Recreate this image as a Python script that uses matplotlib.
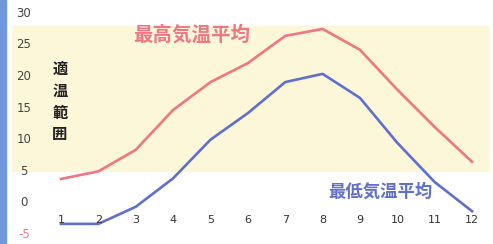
import matplotlib.pyplot as plt
from matplotlib.patches import Rectangle

plt.rcParams['font.family'] = ['Noto Sans CJK JP', 'DejaVu Sans']

# dados
months = [1, 2, 3, 4, 5, 6, 7, 8, 9, 10, 11, 12]
temp_max = [3.8, 5.0, 8.4, 14.7, 19.1, 22.1, 26.4, 27.5, 24.2, 17.9, 12.0, 6.5]
temp_min = [-3.3, -3.3, -0.6, 3.9, 10.0, 14.2, 19.1, 20.4, 16.6, 9.5, 3.3, -1.3]
y_ticks = [30, 25, 20, 15, 10, 5, 0, -5]
comfort_low, comfort_high = 5, 28

red = '#f07585'
blue = '#5f6fd0'

fig = plt.figure(figsize=(4.93, 2.44), dpi=100)
ax = fig.add_axes([0, 0, 1, 1])
ax.set_xlim(-0.633, 12.56)
ax.set_ylim(-6.48, 32.07)
ax.axis('off')

# faixa de temperatura agradavel
ax.axhspan(comfort_low, comfort_high, xmin=12 / 493, xmax=488 / 493,
           color='#fdf7da', zorder=0)

# faixa azul na borda esquerda
fig.patches.append(Rectangle((0, 0), 6 / 493, 1, transform=fig.transFigure,
                             color='#6f98dc', zorder=0))

ax.plot(months, temp_max, color=red, linewidth=1.9, zorder=3)
ax.plot(months, temp_min, color=blue, linewidth=1.9, zorder=3)

# rotulos do eixo y
ytrans = ax.get_yaxis_transform()
for v in y_ticks:
    ax.text(24 / 493, v, str(v), transform=ytrans, ha='center', va='center',
            fontsize=8.5, color=red if v < 0 else '#444444', family='DejaVu Sans')

# rotulos dos meses
for m in months:
    ax.text(m, -2.7, str(m), ha='center', va='center', fontsize=8,
            color='#333333', family='DejaVu Sans')

ax.text(4.5, 26.5, '最高気温平均', color=red, fontsize=14, fontweight='bold',
        ha='center', va='center')
ax.text(9.55, 1.7, '最低気温平均', color=blue, fontsize=12.5, fontweight='bold',
        ha='center', va='center')
ax.text(0.97, 16.0, '適\n温\n範\n囲', color='#222222', fontsize=11,
        fontweight='bold', ha='center', va='center', linespacing=1.45)

fig.savefig('out.png', dpi=100)
